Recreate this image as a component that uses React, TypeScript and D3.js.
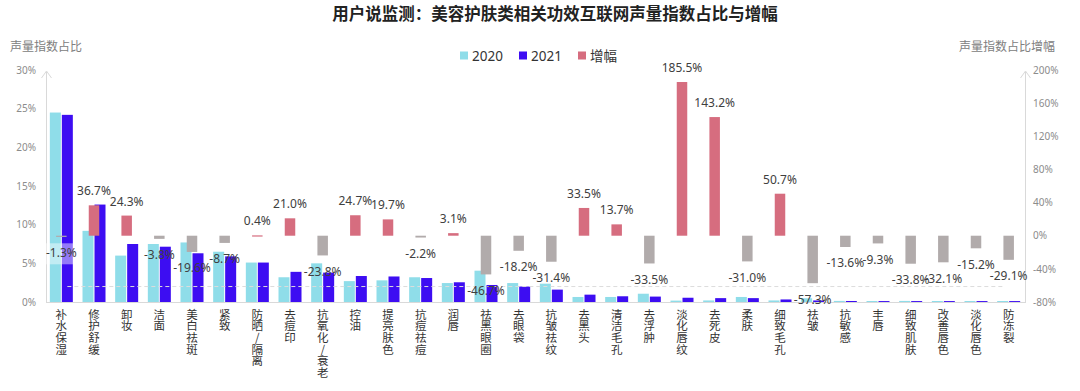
import React, { useEffect, useRef } from "react";
import * as d3 from "d3";

const categories = [
  "补水保湿", "修护舒缓", "卸妆", "洁面", "美白祛斑", "紧致", "防晒/隔离", "去痘印",
  "抗氧化/衰老", "控油", "提亮肤色", "抗痘祛痘", "润唇", "祛黑眼圈", "去眼袋", "抗皱祛纹",
  "去黑头", "清洁毛孔", "去浮肿", "淡化唇纹", "去死皮", "柔肤", "细致毛孔", "祛皱",
  "抗敏感", "丰唇", "细致肌肤", "改善唇色", "淡化唇色", "防冻裂",
];

// 声量指数占比 (%)
const share2020 = [
  24.5, 9.2, 6.0, 7.5, 7.7, 6.5, 5.1, 3.2, 5.0, 2.7, 2.8, 3.2, 2.45, 4.05, 2.45, 2.37,
  0.65, 0.65, 1.07, 0.18, 0.2, 0.65, 0.2, 0.48, 0.14, 0.13, 0.14, 0.13, 0.13, 0.13,
];
const share2021 = [
  24.2, 12.6, 7.5, 7.15, 6.3, 5.9, 5.1, 3.9, 3.8, 3.36, 3.3, 3.1, 2.55, 2.2, 2.0, 1.6,
  0.95, 0.74, 0.7, 0.55, 0.5, 0.5, 0.33, 0.2, 0.13, 0.12, 0.12, 0.12, 0.12, 0.12,
];
// 增幅 (%)
const growth = [
  -1.3, 36.7, 24.3, -3.8, -19.6, -8.7, 0.4, 21.0, -23.8, 24.7, 19.7, -2.2, 3.1, -46.7, -18.2, -31.4,
  33.5, 13.7, -33.5, 185.5, 143.2, -31.0, 50.7, -57.3, -13.6, -9.3, -33.8, -32.1, -15.2, -29.1,
];
const refLine = 2.0;
const highlightedLabel = "补水保湿";

const leftTicks = [0, 5, 10, 15, 20, 25, 30];
const rightTicks = [-80, -40, 0, 40, 80, 120, 160, 200];

const legendItems = [
  { name: "2020", color: "#8fdde9" },
  { name: "2021", color: "#3d0df2" },
  { name: "增幅", color: "#d66d7f" },
];

const W = 1080;
const H = 391;
const plot = { left: 45, right: 1025, top: 70, bottom: 302 };
const numFont = "'Noto Sans', 'Noto Sans CJK SC', sans-serif";
const cjkFont = "'Noto Sans CJK SC', 'Noto Sans', sans-serif";

export default function App() {
  const leftAxisRef = useRef<SVGGElement>(null);
  const rightAxisRef = useRef<SVGGElement>(null);

  const x = d3.scaleBand<string>().domain(categories).range([plot.left, plot.right]);
  const yL = d3.scaleLinear().domain([0, 30]).range([plot.bottom, plot.top]);
  const yR = d3.scaleLinear().domain([-80, 200]).range([plot.bottom, plot.top]);

  const barW = 11;
  const growthW = 10.5;

  useEffect(() => {
    const l = d3
      .axisLeft(yL)
      .tickValues(leftTicks)
      .tickSize(0)
      .tickPadding(0)
      .tickFormat((d) => `${d}%`);
    const gl = d3.select(leftAxisRef.current!).call(l);
    gl.select(".domain").remove();
    gl.selectAll("text")
      .attr("fill", "#8c8c8c")
      .style("font-family", numFont)
      .style("font-size", "10px");

    const r = d3
      .axisRight(yR)
      .tickValues(rightTicks)
      .tickSize(0)
      .tickPadding(0)
      .tickFormat((d) => `${d}%`);
    const gr = d3.select(rightAxisRef.current!).call(r);
    gr.select(".domain").remove();
    gr.selectAll("text")
      .attr("fill", "#8c8c8c")
      .style("font-family", numFont)
      .style("font-size", "10px");
  }, []);

  const c = (name: string) => (x(name) ?? 0) + x.bandwidth() / 2;
  const first = categories[0];
  const last = categories[categories.length - 1];

  return (
    <svg
      width={W}
      height={H}
      style={{ position: "absolute", left: 0, top: 0, background: "#fff" }}
    >
      <text
        x={555}
        y={20}
        textAnchor="middle"
        fontFamily={cjkFont}
        fontWeight="bold"
        fontSize={16.5}
        fill="#222"
      >
        用户说监测：美容护肤类相关功效互联网声量指数占比与增幅
      </text>

      {/* legend */}
      <g fontFamily={numFont} fontSize={13.5} fill="#333">
        {legendItems.map((d, i) => {
          const lx = [460, 519, 578][i];
          return (
            <g key={d.name}>
              <rect x={lx} y={51.5} width={8} height={8} fill={d.color} />
              <text x={lx + 12} y={60.5} fontFamily={i === 2 ? cjkFont : numFont}>
                {d.name}
              </text>
            </g>
          );
        })}
      </g>

      {/* axis titles */}
      <text x={10} y={50.5} fontFamily={cjkFont} fontSize={12} fill="#808080">
        声量指数占比
      </text>
      <text x={1055} y={50.5} textAnchor="end" fontFamily={cjkFont} fontSize={12} fill="#808080">
        声量指数占比增幅
      </text>

      {/* axes lines */}
      <g stroke="#d9d9d9" strokeWidth={1} fill="none">
        <line x1={46.5} x2={46.5} y1={plot.bottom} y2={plot.top + 2} />
        <line x1={plot.right + 0.5} x2={plot.right + 0.5} y1={plot.bottom} y2={plot.top + 2} />
        <line x1={46} x2={plot.right + 1} y1={plot.bottom + 0.5} y2={plot.bottom + 0.5} />
        <polyline points={`41.5,78 46.5,71 51.5,78`} />
        <polyline points={`${plot.right - 4.5},78 ${plot.right + 0.5},71 ${plot.right + 5.5},78`} />
      </g>
      <g ref={leftAxisRef} transform={`translate(36,0)`} />
      <g ref={rightAxisRef} transform={`translate(1033,0)`} />

      {/* year bars */}
      {categories.map((name, i) => (
        <g key={name}>
          <rect
            x={c(name) - barW - 0.5}
            y={yL(share2020[i])}
            width={barW}
            height={yL(0) - yL(share2020[i])}
            fill="#8fdde9"
          />
          <rect
            x={c(name) + 0.5}
            y={yL(share2021[i])}
            width={barW}
            height={yL(0) - yL(share2021[i])}
            fill="#3d0df2"
          />
        </g>
      ))}

      {/* reference dashed line */}
      <line
        x1={c(first) + 6}
        x2={c(last) - 6}
        y1={yL(refLine)}
        y2={yL(refLine)}
        stroke="#dcdcdc"
        strokeDasharray="4,3"
      />

      {/* growth bars */}
      {categories.map((name, i) => {
        const g = growth[i];
        const y0 = yR(Math.max(0, g));
        const y1 = yR(Math.min(0, g));
        return (
          <rect
            key={name}
            x={c(name) - growthW / 2}
            y={y0}
            width={growthW}
            height={Math.max(1.2, y1 - y0)}
            fill={g >= 0 ? "#d66d7f" : "#b1abab"}
          />
        );
      })}

      {/* growth labels */}
      {categories.map((name, i) => {
        const g = growth[i];
        const ly = g >= 0 ? yR(g) - 10 : yR(g) + 20.5;
        return (
          <g key={name}>
            {name === highlightedLabel && (
              <rect
                x={c(name) - 16}
                y={ly - 14}
                width={32}
                height={21}
                fill="#fff"
                opacity={0.45}
              />
            )}
            <text
              x={c(name)}
              y={ly}
              textAnchor="middle"
              fontFamily={numFont}
              fontSize={12}
              fill="#404040"
            >
              {`${g.toFixed(1)}%`}
            </text>
          </g>
        );
      })}

      {/* category labels, vertical */}
      {categories.map((name) => (
        <text
          key={name}
          textAnchor="middle"
          fontFamily={cjkFont}
          fontSize={11.5}
          fill="#333"
        >
          {Array.from(name).map((ch, j) => (
            <tspan key={j} x={c(name)} y={318.5 + j * 11.7}>
              {ch}
            </tspan>
          ))}
        </text>
      ))}
    </svg>
  );
}
